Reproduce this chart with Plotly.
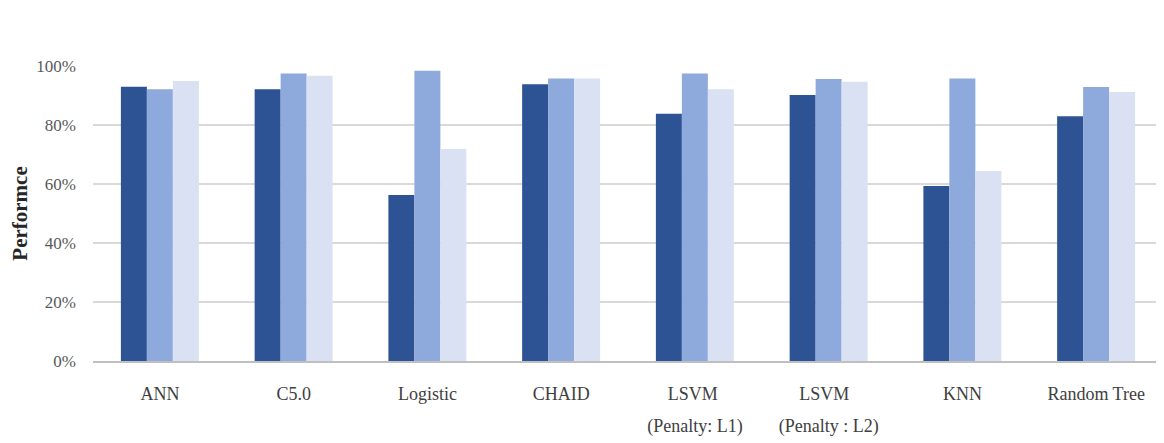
import plotly.graph_objects as go

categories = ["ANN", "C5.0", "Logistic", "CHAID", "LSVM ", "LSVM  ", "KNN", "Random Tree"]
second_line = ["", "", "", "", "(Penalty: L1)", "(Penalty : L2)", "", ""]
series_dark = [0.930, 0.921, 0.563, 0.938, 0.838, 0.902, 0.593, 0.830]
series_mid = [0.921, 0.975, 0.984, 0.958, 0.975, 0.956, 0.958, 0.929]
series_light = [0.949, 0.967, 0.719, 0.958, 0.921, 0.947, 0.644, 0.912]
tick_vals = [0, 0.2, 0.4, 0.6, 0.8, 1.0]
tick_text = ["0%", "20%", "40%", "60%", "80%", "100%"]

colors = ["#2E5395", "#8EA9DB", "#D9E1F2"]
names = ["Series 1", "Series 2", "Series 3"]

fig = go.Figure()
for vals, c, n in zip([series_dark, series_mid, series_light], colors, names):
    fig.add_trace(go.Bar(x=categories, y=vals, name=n, marker_color=c,
                         marker_line_width=0))

# invisible carrier for the second line of category labels
fig.add_trace(go.Scatter(x=categories, y=[0] * len(categories), xaxis="x2",
                         mode="markers", marker=dict(opacity=0),
                         hoverinfo="skip", showlegend=False))

serif = "Liberation Serif, Times New Roman, serif"
fig.update_layout(
    width=1164, height=443,
    margin=dict(l=85, r=9, t=58, b=90),
    paper_bgcolor="white", plot_bgcolor="white",
    barmode="group", bargap=0.417, bargroupgap=0,
    showlegend=False,
    font=dict(family=serif, color="#404040"),
    xaxis=dict(type="category", categoryarray=categories, range=[-0.5, 7.5],
               showgrid=False, showline=True, linecolor="#BFBFBF", linewidth=1.5,
               tickfont=dict(size=18, color="#404040", family=serif),
               ticks="", ticklabelstandoff=16),
    xaxis2=dict(type="category", categoryarray=categories, range=[-0.5, 7.5],
                overlaying="x", side="bottom", showgrid=False, showline=False,
                tickvals=categories, ticktext=second_line,
                tickfont=dict(size=18, color="#404040", family=serif),
                ticks="", ticklabelstandoff=52),
    yaxis=dict(range=[0, 1.0], tickvals=tick_vals, ticktext=tick_text,
               showgrid=True, gridcolor="#D9D9D9", gridwidth=1.5,
               zeroline=False, showline=False,
               tickfont=dict(size=17, color="#595959", family=serif),
               ticklabelstandoff=16,
               title=dict(text="<b>Performce</b>", font=dict(size=21, color="#262626", family=serif),
                          standoff=6)),
)

fig.write_html("out.html")
